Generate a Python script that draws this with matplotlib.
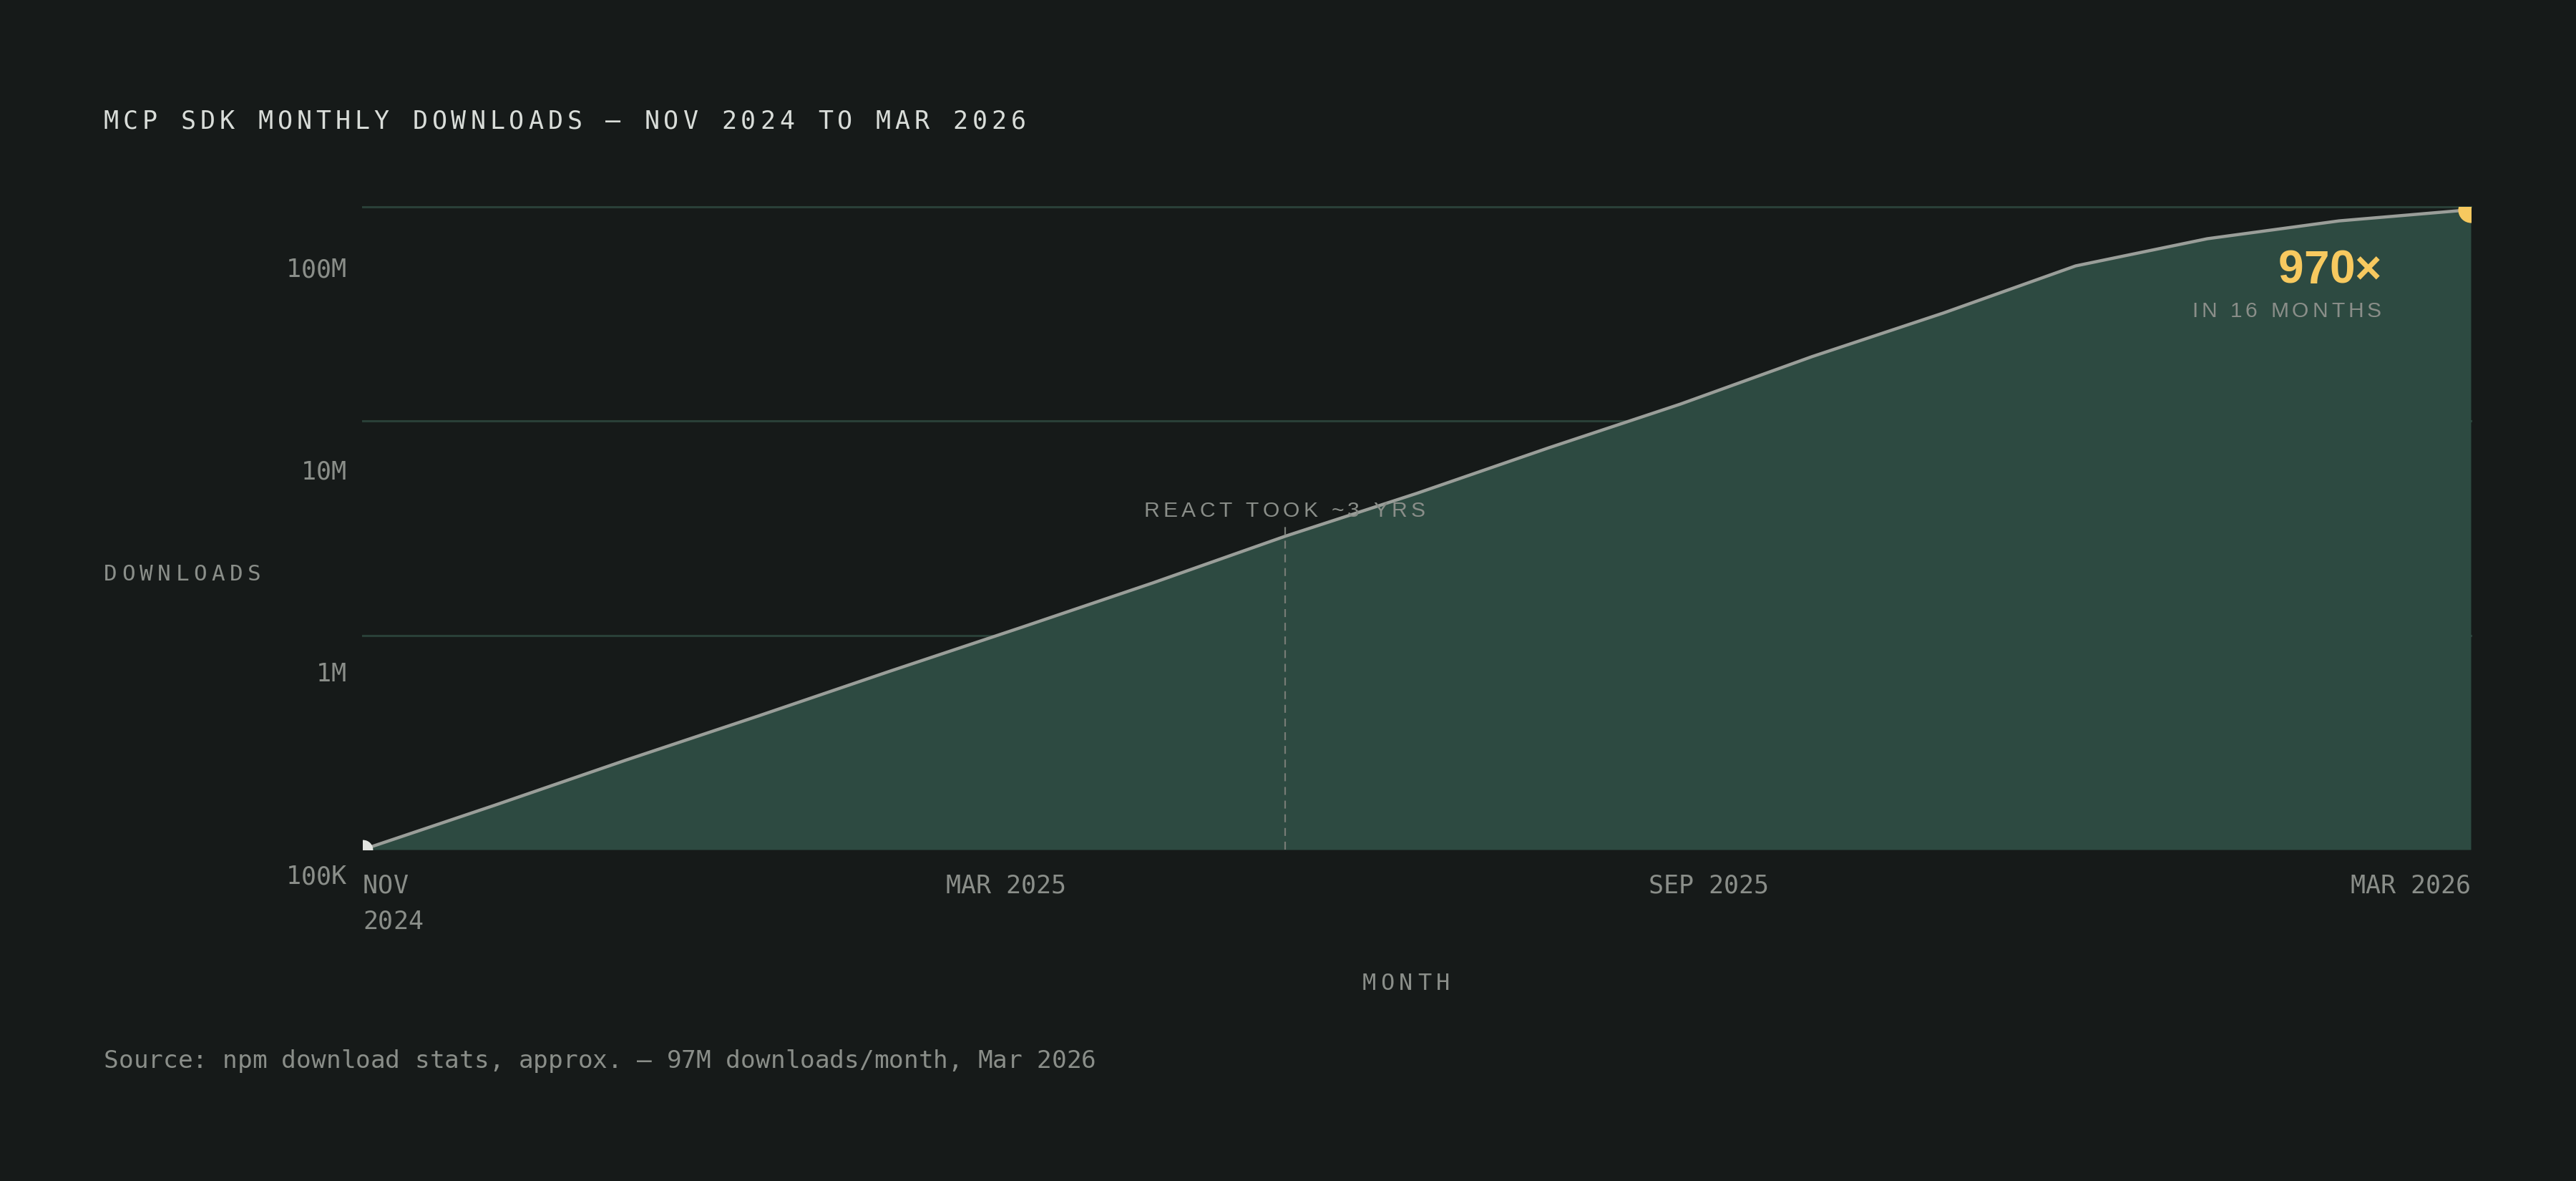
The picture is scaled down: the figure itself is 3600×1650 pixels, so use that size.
import matplotlib
matplotlib.use("Agg")
import matplotlib.pyplot as plt
from matplotlib.font_manager import FontProperties, findfont
from matplotlib.ft2font import FT2Font

W, H, DPI = 3600, 1650, 200

# monthly downloads (log scale)
months = ["NOV 2024", "DEC 2024", "JAN 2025", "FEB 2025", "MAR 2025", "APR 2025",
          "MAY 2025", "JUN 2025", "JUL 2025", "AUG 2025", "SEP 2025", "OCT 2025",
          "NOV 2025", "DEC 2025", "JAN 2026", "FEB 2026", "MAR 2026"]
downloads = [100e3, 161e3, 262e3, 420e3, 680e3, 1.09e6, 1.76e6, 2.9e6, 4.6e6,
             7.5e6, 12e6, 20e6, 32e6, 53e6, 71e6, 86e6, 97e6]
x_tick_labels = ["NOV\n2024", "MAR 2025", "SEP 2025", "MAR 2026"]
y_tick_labels = ["100K", "1M", "10M", "100M"]
grid_values = [1e6, 1e7, 1e8]
react_month = "JUN 2025"
react_top = 3.2e6

BG = "#161a19"
FILL = "#2d4a41"
LINE = "#9a9e99"
GRID = "#2a4038"
TXT = "#d9ddd9"
MUTED = "#8a8e89"
YELLOW = "#f7c95f"

fig = plt.figure(figsize=(W / DPI, H / DPI), dpi=DPI, facecolor=BG)


def put_text(x, y, s, size, color, spacing=0.0, family="DejaVu Sans Mono",
             weight="normal", ha="left"):
    """x, y = pixels from top left (baseline), size in pixels, letter spacing in pixels"""
    fp = FontProperties(family=family, size=size * 72 / DPI, weight=weight)
    font = FT2Font(findfont(fp))
    font.set_size(size * 72 / DPI, DPI)
    advs = [font.load_char(ord(c)).linearHoriAdvance / 65536 for c in s]
    total = sum(advs) + spacing * (len(s) - 1)
    if ha == "right":
        x -= total
    elif ha == "center":
        x -= total / 2
    for c, a in zip(s, advs):
        if c != " ":
            fig.text(x / W, 1 - y / H, c, fontproperties=fp, color=color,
                     va="baseline", ha="left")
        x += a + spacing


# plot area
left, right, top, bottom = 507, 3453, 289, 1187
ax = fig.add_axes([left / W, 1 - bottom / H, (right - left) / W, (bottom - top) / H])
ax.set_facecolor(BG)
ax.set_yscale("log")
ax.set_xlim(0, len(months) - 1)
ax.set_ylim(1e5, 1e8)
for s in ax.spines.values():
    s.set_visible(False)
ax.set_xticks([])
ax.set_yticks([])
ax.minorticks_off()

x = list(range(len(months)))
for g in grid_values:
    ax.axhline(g, color=GRID, lw=1.1, zorder=1, clip_on=False)

ax.fill_between(x, 1e5, downloads, color=FILL, lw=0, zorder=2)
ax.plot(x, downloads, color=LINE, lw=1.6, zorder=3, solid_joinstyle="round")

# react reference line
ri = months.index(react_month)
ax.plot([ri, ri], [1e5, react_top], color="#767b75", lw=0.8, dashes=(5, 3.6), zorder=4)

# start / end dots
ax.plot(x[0], downloads[0], "o", ms=10, color="#e2e5e1", mew=0, zorder=5)
ax.plot(x[-1], downloads[-1], "o", ms=13, color=YELLOW, mew=0, zorder=5)

# texts
put_text(145, 180, "MCP SDK MONTHLY DOWNLOADS — NOV 2024 TO MAR 2026", 35, TXT, spacing=5.9)

for lab, yb in zip(y_tick_labels, [1235, 952, 670, 387]):
    put_text(484, yb, lab, 35, MUTED, ha="right")
put_text(145, 811, "DOWNLOADS", 31, MUTED, spacing=6.4)

put_text(507, 1248, x_tick_labels[0].split("\n")[0], 35, MUTED)
put_text(507, 1298, x_tick_labels[0].split("\n")[1], 35, MUTED)
put_text(1490, 1248, x_tick_labels[1], 35, MUTED, ha="right")
put_text(2472, 1248, x_tick_labels[2], 35, MUTED, ha="right")
put_text(3453, 1248, x_tick_labels[3], 35, MUTED, ha="right")
put_text(1965, 1383, "MONTH", 32, MUTED, spacing=6.7, ha="center")

put_text(1795, 722, "REACT TOOK ~3 YRS", 30, MUTED, spacing=5.3,
         family="Liberation Sans", ha="center")
put_text(3328, 396, "970×", 64, YELLOW, family="Liberation Sans", weight="bold", ha="right")
put_text(3328, 443, "IN 16 MONTHS", 30, MUTED, spacing=5, family="Liberation Sans", ha="right")

put_text(145, 1492, "Source: npm download stats, approx. — 97M downloads/month, Mar 2026",
         34.4, MUTED)

fig.savefig("out.png", dpi=DPI, facecolor=BG)
